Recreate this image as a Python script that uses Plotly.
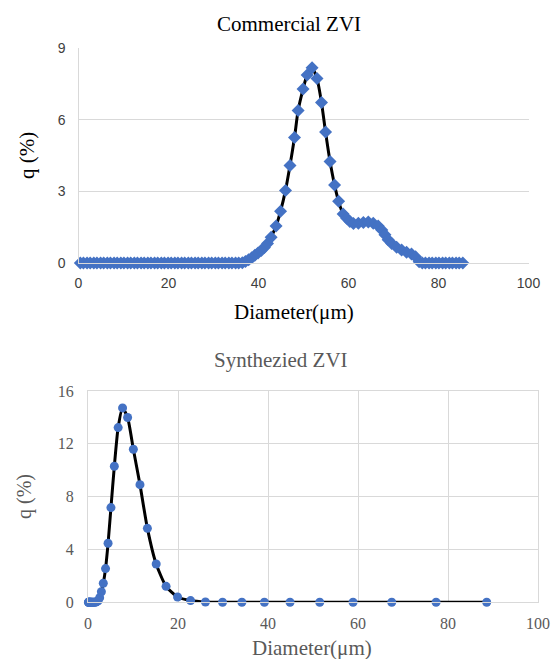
import plotly.graph_objects as go

# ---------------- Data ----------------
# Commercial ZVI
com_d = [0.4, 1.1, 1.9, 2.6, 3.4, 4.1, 4.9, 5.6, 6.4, 7.1, 7.9, 8.6, 9.4, 10.1, 10.9, 11.6,
         12.4, 13.1, 13.9, 14.6, 15.4, 16.1, 16.9, 17.6, 18.4, 19.1, 19.9, 20.6, 21.4, 22.1,
         22.9, 23.6, 24.4, 25.1, 25.9, 26.6, 27.4, 28.1, 28.9, 29.6, 30.4, 31.1, 31.9, 32.6,
         33.4, 34.1, 34.9, 35.6, 36.4,
         37.1, 37.8, 38.5, 39.2, 39.9, 40.6, 41.3, 42.0, 42.8, 43.9, 44.9, 46.0, 47.0, 48.0,
         48.8, 49.9, 50.8, 51.9, 53.0, 54.0, 54.9, 55.9, 56.9, 57.8, 58.8, 59.6, 60.3, 61.1,
         62.2, 63.3, 64.4, 65.5, 66.6, 67.4, 68.1, 68.8, 69.6, 70.7, 71.8, 72.9, 74.0, 74.9,
         75.7,
         76.4, 77.1, 77.9, 78.6, 79.4, 80.1, 80.9, 81.6, 82.4, 83.1, 83.9, 84.6, 85.4]
com_q = [0, 0, 0, 0, 0, 0, 0, 0, 0, 0, 0, 0, 0, 0, 0, 0,
         0, 0, 0, 0, 0, 0, 0, 0, 0, 0, 0, 0, 0, 0,
         0, 0, 0, 0, 0, 0, 0, 0, 0, 0, 0, 0, 0, 0,
         0, 0, 0, 0, 0.01,
         0.06, 0.14, 0.22, 0.32, 0.42, 0.52, 0.65, 0.82, 1.08, 1.55, 2.17, 3.04, 4.08, 5.25,
         6.38, 7.28, 7.87, 8.17, 7.72, 6.72, 5.48, 4.25, 3.27, 2.58, 2.05, 1.87, 1.74, 1.65,
         1.66, 1.70, 1.72, 1.66, 1.55, 1.38, 1.18, 0.97, 0.82, 0.66, 0.54, 0.45, 0.38, 0.26,
         0.05,
         0, 0, 0, 0, 0, 0, 0, 0, 0, 0, 0, 0, 0]

# Synthesized ZVI
syn_d = [0.10, 0.13, 0.17, 0.22, 0.29, 0.33, 0.38, 0.44, 0.50, 0.58, 0.66, 0.76, 0.87,
         1.00, 1.15, 1.31, 1.50, 1.72, 1.97, 2.26, 2.59, 2.97, 3.40, 3.90, 4.46, 5.10,
         5.85, 6.70, 7.68, 8.80, 10.08, 11.55, 13.20, 15.15, 17.35, 19.90, 22.80, 26.10,
         29.90, 34.20, 39.20, 44.90, 51.50, 58.90, 67.50, 77.35, 88.60]
syn_q = [0, 0, 0, 0, 0, 0, 0, 0, 0, 0, 0, 0, 0,
         0, 0, 0, 0, 0.02, 0.05, 0.12, 0.35, 0.80, 1.44, 2.55, 4.47, 7.17,
         10.30, 13.23, 14.72, 13.99, 11.59, 8.91, 5.60, 2.90, 1.21, 0.40, 0.13, 0.02,
         0, 0, 0, 0, 0, 0, 0, 0, 0]

top_x_ticks = [0, 20, 40, 60, 80, 100]
top_y_ticks = [0, 3, 6, 9]
bot_x_ticks = [0, 20, 40, 60, 80, 100]
bot_y_ticks = [0, 4, 8, 12, 16]

W, H = 552, 659
BLUE = "#4472C4"
GRID = "#D9D9D9"
SERIF = "Liberation Serif, Times New Roman, serif"
SANS = "Liberation Sans, Arial, sans-serif"

fig = go.Figure()

fig.add_trace(go.Scatter(
    x=com_d, y=com_q, mode="lines+markers", xaxis="x", yaxis="y",
    line=dict(color="black", width=3, shape="spline", smoothing=0.6),
    marker=dict(symbol="diamond", size=10, color=BLUE),
    showlegend=False, cliponaxis=False))

fig.add_trace(go.Scatter(
    x=syn_d, y=syn_q, mode="lines+markers", xaxis="x2", yaxis="y2",
    line=dict(color="black", width=3, shape="spline", smoothing=0.6),
    marker=dict(symbol="circle", size=9, color=BLUE),
    showlegend=False, cliponaxis=False))


def px_x(p):
    return p / W


def px_y(p):
    return 1 - p / H


fig.update_layout(
    width=W, height=H,
    margin=dict(l=0, r=0, t=0, b=0, autoexpand=False),
    paper_bgcolor="white", plot_bgcolor="white",
    xaxis=dict(domain=[px_x(78.5), px_x(528.5)], anchor="y", range=[0, 100],
               tickvals=top_x_ticks, showgrid=False, zeroline=False, automargin=False,
               showline=True, linecolor=GRID, linewidth=1.3, ticks="", ticklabelstandoff=7,
               tickfont=dict(family=SANS, size=14, color="#404040")),
    yaxis=dict(domain=[px_y(263), px_y(48)], anchor="x", range=[0, 9],
               tickvals=top_y_ticks, showgrid=True, gridcolor=GRID, gridwidth=1.3,
               zeroline=False, automargin=False, ticklabelstandoff=9,
               showline=True, linecolor=GRID, linewidth=1.3, ticks="",
               tickfont=dict(family=SANS, size=14, color="#404040")),
    xaxis2=dict(domain=[px_x(88), px_x(538)], anchor="y2", range=[0, 100],
                tickvals=bot_x_ticks, showgrid=True, gridcolor=GRID, gridwidth=1.3,
                zeroline=False, automargin=False, ticklabelstandoff=6,
                showline=True, linecolor=GRID, linewidth=1.3,
                mirror=True, ticks="",
                tickfont=dict(family=SERIF, size=16, color="#595959")),
    yaxis2=dict(domain=[px_y(602.3), px_y(391)], anchor="x2", range=[0, 16],
                tickvals=bot_y_ticks, showgrid=True, gridcolor=GRID, gridwidth=1.3,
                zeroline=False, automargin=False, ticklabelstandoff=10,
                showline=True, linecolor=GRID, linewidth=1.3,
                mirror=True, ticks="",
                tickfont=dict(family=SERIF, size=16, color="#595959")),
)

annots = [
    dict(text="Commercial ZVI", x=px_x(289), y=px_y(24), font=dict(family=SERIF, size=21, color="black")),
    dict(text="Diameter(μm)", x=px_x(294), y=px_y(312), font=dict(family=SERIF, size=21, color="black")),
    dict(text="q (%)", x=px_x(27), y=px_y(156), textangle=-90, font=dict(family=SERIF, size=21, color="black")),
    dict(text="Synthezied ZVI", x=px_x(281), y=px_y(360), font=dict(family=SERIF, size=21, color="#595959")),
    dict(text="Diameter(μm)", x=px_x(312), y=px_y(648), font=dict(family=SERIF, size=21, color="#595959")),
    dict(text="q (%)", x=px_x(24), y=px_y(497), textangle=-90, font=dict(family=SERIF, size=20, color="#595959")),
]
for a in annots:
    fig.add_annotation(xref="paper", yref="paper", showarrow=False,
                       xanchor="center", yanchor="middle", **a)

fig.write_html("out.html", config={"displayModeBar": False},
               post_script="document.body.style.margin='0';document.body.style.overflow='hidden';")
